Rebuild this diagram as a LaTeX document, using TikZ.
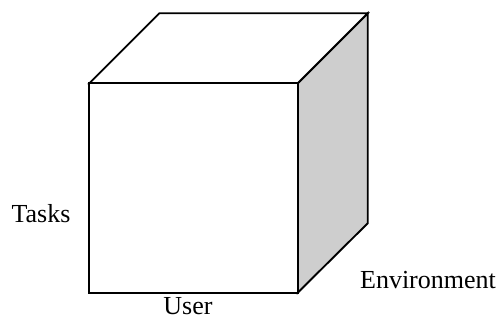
\documentclass[tikz,border=0pt]{standalone}
\usepackage{fontspec}
\setmainfont{Liberation Serif}
\definecolor{sidegray}{HTML}{CECECE}
\begin{document}
\begin{tikzpicture}[x=1pt,y=-1pt,
  edge/.style={draw=black,line width=1.9pt,line join=miter},
  lbl/.style={font=\fontsize{26}{30}\selectfont,inner sep=0pt,anchor=base}]
\useasboundingbox (0,0) rectangle (501,320);
\coordinate (ftl) at (89.3,83.3);
\coordinate (ftr) at (297.7,83.3);
\coordinate (fbl) at (89.3,292.7);
\coordinate (fbr) at (297.7,292.7);
\coordinate (btl) at (159.3,13.3);
\coordinate (btr) at (367.7,13.3);
\coordinate (bbr) at (367.7,223.3);
% right face
\path[edge,fill=sidegray] (ftr) -- (btr) -- (bbr) -- (fbr) -- cycle;
% top face
\path[edge,fill=white] (ftl) -- (btl) -- (btr) -- (ftr) -- cycle;
% front face
\path[edge,fill=white] (ftl) -- (ftr) -- (fbr) -- (fbl) -- cycle;
\node[lbl] (tasks) at (41,222.7) {Tasks};
\node[lbl] (user) at (188,315) {User};
\node[lbl] (env) at (428,288.3) {Environment};
\end{tikzpicture}
\end{document}
